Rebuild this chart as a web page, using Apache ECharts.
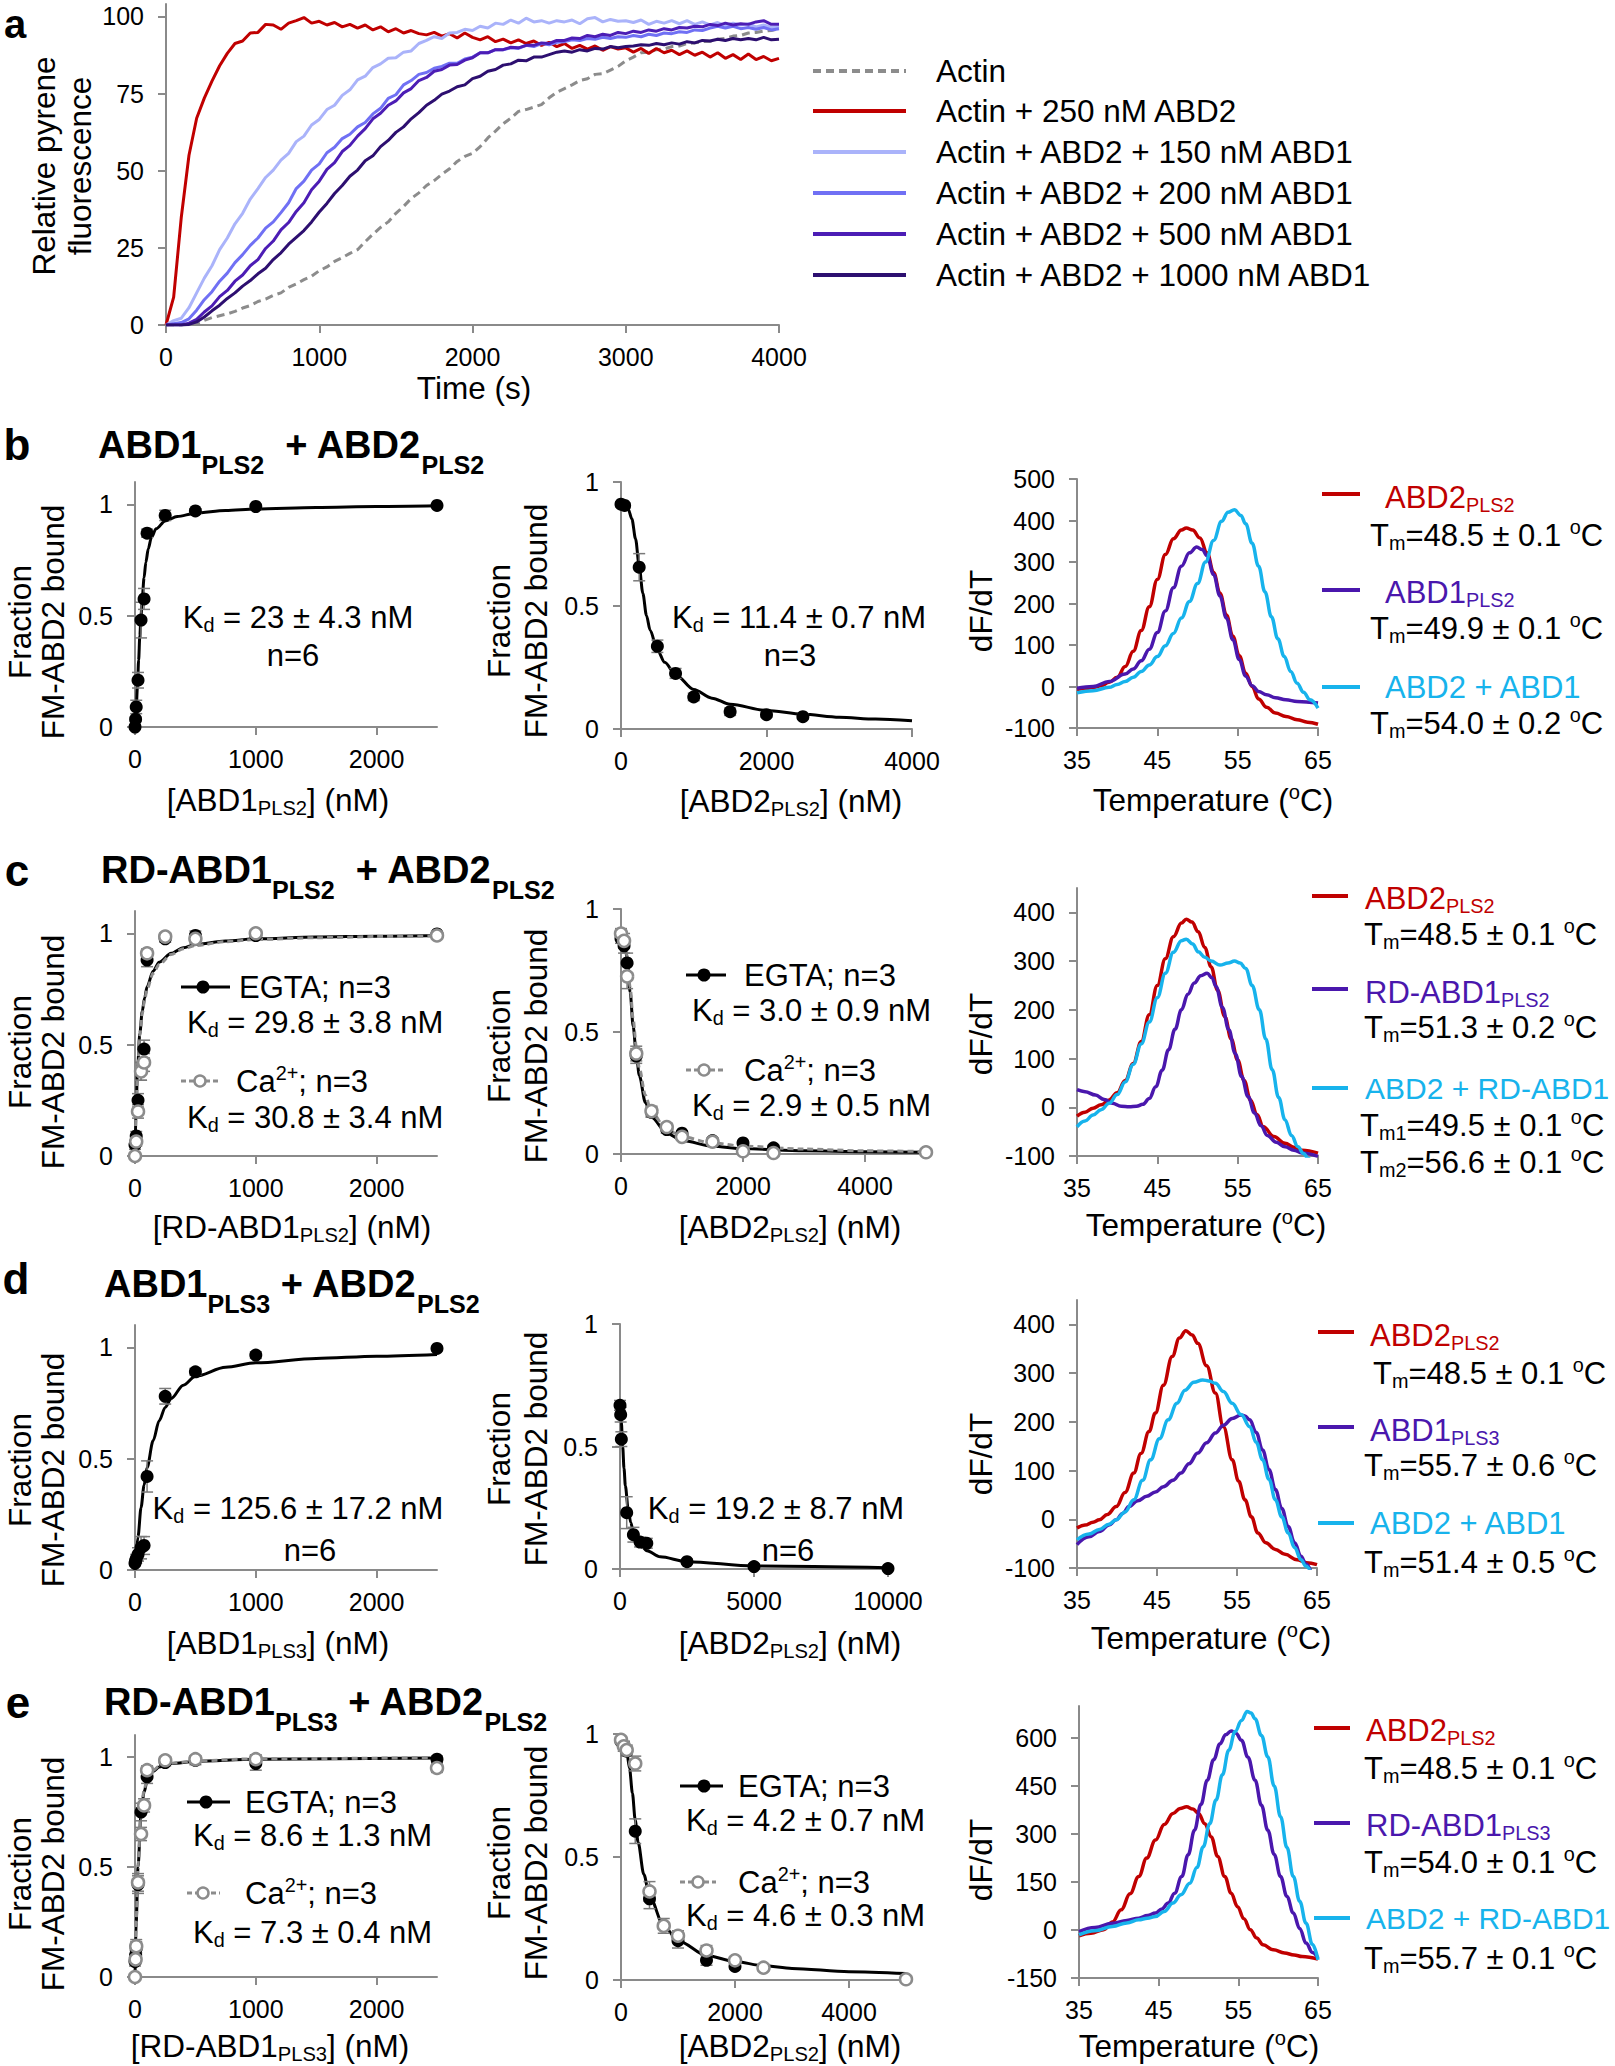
<!DOCTYPE html>
<html><head><meta charset="utf-8">
<script src="https://cdn.jsdelivr.net/npm/echarts@6/dist/echarts.min.js"></script>
<style>html,body{margin:0;padding:0;background:#fff}#c{width:1615px;height:2066px}</style>
</head><body><div id="c"></div><script>
// ---------------- DATA ----------------
// Panel a: pyrene-actin polymerisation (time in s, relative fluorescence)
const TIME_S = [0,50,100,150,200,250,300,350,400,450,500,550,600,650,700,750,800,850,900,950,1000,1050,1100,1150,1200,1250,1300,1350,1400,1450,1500,1550,1600,1650,1700,1750,1800,1850,1900,1950,2000,2050,2100,2150,2200,2250,2300,2350,2400,2450,2500,2550,2600,2650,2700,2750,2800,2850,2900,2950,3000,3050,3100,3150,3200,3250,3300,3350,3400,3450,3500,3550,3600,3650,3700,3750,3800,3850,3900,3950,4000];
const A_ACTIN = [0,0,0,0.2,0.5,1.5,2.4,3.0,3.6,4.4,5.5,6.3,7.6,8.4,9.6,10.4,12.2,13.3,14.7,15.8,17.6,18.8,20.6,21.8,23.2,24.4,27.0,29.4,31.6,33.4,36.2,38.4,41.0,42.8,45.2,46.8,48.8,50.6,53.0,54.6,55.6,57.8,60.6,62.8,65.2,67.0,69.2,69.8,70.6,71.4,73.6,75.4,76.6,77.8,79.2,79.8,81.2,81.4,82.6,83.8,85.6,86.8,88.2,88.4,89.2,89.4,90.2,90.4,91.2,91.4,91.8,91.9,92.6,92.9,93.6,93.8,94.6,94.8,95.2,95.4,96.0];
const A_ABD2 = [0,9,35,55,67,73.5,79,84,88,91.2,92,94.6,94.8,97.4,97.2,95.8,97.8,98.6,99.6,97.8,98.4,97.2,98,96.6,97.4,96.2,97.2,95.6,96.6,95,96,94.6,95.4,94.4,94,94.8,93.6,94.4,93,94.6,93.2,92.4,93.4,91.8,92.6,91.4,92.4,91.2,92,90.6,91.6,90.2,91.2,89.6,90.6,89.4,90.4,89,90.2,89.4,89.8,88.4,89.6,88,89.6,88.2,89,87.6,88.8,87.4,88.4,86.8,88.2,86.4,87.6,86,87.8,86,87,85.6,86.4];
const A_ABD1_150 = [0,1.4,2.2,5.6,10.4,15.2,19.2,24.4,28.2,32.8,36.2,40.8,44.2,47.8,50.2,53.4,55.6,59.4,61.2,64.8,66.6,69.8,71.2,74.4,76.2,79.4,80.6,83.4,84.6,86.4,86.6,88.4,88.8,91.2,92.2,93.4,92.8,94.6,94.8,95.8,95.4,96.8,96.2,97.8,97.4,98.8,97.8,99.4,98.2,98.6,97.8,98.6,98.2,98.8,97.6,99.2,99.6,98.2,99,98.4,98.6,98,98.8,97.4,98.4,97.8,98.6,97.6,98.6,97.4,98.2,97.2,98,97,97.8,97.2,97.6,96.6,97.2,96.4,96.6];
const A_ABD1_200 = [0,0.4,0.8,2,4.8,8.2,10.8,14.2,16.8,20.2,22.8,25.8,28.2,31.4,33.4,36.4,39.6,44.2,46.6,50.2,52.2,55.8,57.6,60.4,61.8,64.2,65.6,68.4,70.2,73.4,74.6,77.8,79.2,81.2,81.8,83.2,83.8,84.8,84.8,86.2,86.8,88.2,88.2,89.2,89.2,89.8,89.6,90.6,90.2,91.2,90.8,91.6,91.8,92.4,92.2,92.8,92.6,93.2,92.8,93.4,93.2,93.8,93.4,94.2,93.8,94.6,94.4,95,94.8,95.6,95.4,96.2,96.8,96.2,96.8,96,96.4,95.8,96.4,95.6,96];
const A_ABD1_500 = [0,0,0,0.6,1.8,4.2,6.2,9.2,11.2,14.2,16.2,19.2,21.2,24.8,27.2,30.8,33.2,36.8,39.6,43.8,46.6,50.4,52.6,56.2,58.2,61.2,63.6,66.8,68.6,71.2,72.6,75.2,76.6,79.2,80.2,82.2,82.8,84.2,84.4,85.8,86.6,88.2,88.2,89.2,89.2,90,89.8,90.6,90.6,91.4,91.2,92.2,92.2,93,92.8,93.8,93.4,94.2,93.8,94.8,94.4,95.2,94.8,95.6,95.2,96,95.6,96.4,96.2,96.8,96.6,97.4,97,97.8,97.2,97.6,97.4,98.2,98.6,97.4,97.4];
const A_ABD1_1000 = [0,0,0,0.2,1,2.6,4.6,6.4,8.6,10.4,12.6,14.4,16.6,18.4,21.2,23.4,26.2,28.4,30.6,33.4,36.6,39.4,42.6,45.2,48.2,50.2,53.2,54.8,57.8,59.8,62.4,64.2,66.8,68.8,71.2,72.8,74.8,75.8,77.2,77.8,79.8,80.6,82.2,82.8,84.2,84.6,85.8,85.6,86.8,86.8,87.6,88.4,88.8,88.4,89.2,88.8,89.6,89.4,90.2,89.8,90.2,90.4,90.8,90.6,91.2,90.8,91.4,91,91.8,91.4,92.2,92,92.6,92.2,92.8,92.4,92.8,92.4,93.2,92.4,92.6];
const A_NAMES = ['Actin','Actin + 250 nM ABD2','Actin + ABD2 + 150 nM ABD1','Actin + ABD2 + 200 nM ABD1','Actin + ABD2 + 500 nM ABD1','Actin + ABD2 + 1000 nM ABD1'];

// Panel b: ABD1PLS2 + ABD2PLS2
const B1_X = [0,5,10,25,50,75,100,250,500,1000,2500];
const B1_Y = [0.0,0.035,0.09,0.21,0.48,0.575,0.87,0.95,0.97,0.99,0.995];
const B1_E = [0.01,0.01,0.03,0.035,0.08,0.047,0.018,0.023,0.01,0.01,0.005];
const B1_FIT_X = [0,10,20,30,40,50,60,75,90,110,135,175,250,350,500,750,1000,1500,2000,2500];
const B1_FIT_Y = [0,0.08,0.18,0.3,0.41,0.5,0.58,0.67,0.74,0.8,0.85,0.89,0.925,0.945,0.96,0.972,0.979,0.986,0.99,0.993];
const B2_X = [0,50,250,500,750,1000,1500,2000,2500];
const B2_Y = [0.91,0.905,0.655,0.335,0.225,0.13,0.07,0.058,0.05];
const B2_E = [0.01,0.01,0.055,0.025,0.02,0.015,0.015,0.01,0.01];
const B2_FIT_X = [0,50,100,150,200,250,300,350,400,500,600,750,1000,1250,1500,2000,2500,3000,3500,4000];
const B2_FIT_Y = [0.91,0.905,0.89,0.85,0.77,0.66,0.55,0.46,0.4,0.32,0.27,0.22,0.16,0.125,0.1,0.075,0.06,0.048,0.04,0.033];
const B3_ABD2 = [[35,-7],[36,-5],[37,-2],[38,2],[39,10],[40,22],[41,48],[42,85],[43,135],[44,192],[45,258],[46,318],[47,356],[48,377],[48.6,382],[49.4,377],[50.3,358],[51.2,322],[52,275],[52.8,225],[53.6,172],[54.4,121],[55.2,74],[56,32],[56.8,0],[57.6,-30],[58.6,-50],[59.7,-64],[61,-72],[62.4,-80],[63.7,-86],[65,-91]];
const B3_ABD1 = [[35,-4],[37,0],[39,12],[41,30],[42,42],[43,62],[44,90],[45,130],[46,182],[47,238],[48,290],[49,322],[49.9,336],[50.6,330],[51.2,315],[52,270],[52.8,218],[53.6,165],[54.4,113],[55.2,65],[56,25],[56.8,2],[57.6,-12],[58.6,-20],[59.7,-27],[61,-32],[62.4,-36],[65,-40]];
const B3_MIX = [[35,-15],[37,-10],[39,-2],[40,5],[41,12],[42,22],[43,36],[44,52],[45,72],[46,98],[47,128],[48,165],[49,205],[50,248],[51,300],[52,352],[53,398],[53.8,420],[54.6,426],[55.4,412],[56,392],[56.8,345],[57.6,290],[58.4,228],[59.2,168],[60,115],[60.8,72],[61.6,36],[62.4,8],[63.2,-14],[64,-32],[65,-52]];

// Panel c: RD-ABD1PLS2 + ABD2PLS2
const C1_X = [0,10,25,50,75,100,250,500,1000,2500];
const C1_EGTA = [0.05,0.09,0.25,0.38,0.48,0.88,0.975,0.99,0.99,0.997];
const C1_EGTA_E = [0.02,0.02,0.03,0.04,0.04,0.03,0.015,0.02,0.01,0.01];
const C1_CA = [0,0.065,0.2,0.38,0.42,0.91,0.985,0.975,1.0,0.99];
const C1_CA_E = [0.01,0.02,0.03,0.04,0.04,0.02,0.015,0.02,0.01,0.01];
const C1_FIT_X = [0,10,20,40,60,80,100,150,200,300,400,500,750,1000,1500,2000,2500];
const C1_FIT_EGTA = [0,0.22,0.38,0.55,0.65,0.71,0.76,0.83,0.87,0.91,0.935,0.95,0.965,0.975,0.983,0.987,0.99];
const C1_FIT_CA = [0,0.21,0.37,0.54,0.64,0.7,0.75,0.82,0.86,0.905,0.93,0.945,0.962,0.972,0.98,0.985,0.988];
const C2_X = [0,50,100,250,500,750,1000,1500,2000,2500,5000];
const C2_EGTA = [0.88,0.85,0.78,0.4,0.17,0.1,0.085,0.055,0.045,0.025,0.007];
const C2_EGTA_E = [0.02,0.03,0.04,0.03,0.02,0.015,0.01,0.01,0.01,0.01,0.005];
const C2_CA = [0.9,0.87,0.725,0.41,0.175,0.11,0.07,0.05,0.011,0.004,0.007];
const C2_CA_E = [0.02,0.03,0.05,0.03,0.02,0.015,0.01,0.01,0.01,0.01,0.005];
const C2_FIT_X = [0,50,100,150,200,250,300,400,500,750,1000,1500,2000,3000,4000,5000];
const C2_FIT_EGTA = [0.89,0.87,0.8,0.66,0.52,0.41,0.32,0.21,0.15,0.085,0.055,0.032,0.022,0.013,0.009,0.007];
const C2_FIT_CA = [0.9,0.88,0.81,0.68,0.55,0.44,0.35,0.24,0.17,0.1,0.07,0.045,0.032,0.02,0.013,0.01];
const C3_ABD2 = [[35,-18],[36,-10],[37,-2],[38,5],[39,15],[40,30],[41,55],[42,90],[43,135],[44,190],[45,250],[46,305],[47,350],[48,378],[48.6,386],[49.3,380],[50.1,360],[50.9,328],[51.7,288],[52.5,240],[53.4,186],[54.2,140],[55,97],[55.8,55],[56.6,15],[57.4,-15],[58.2,-40],[59.5,-60],[60.9,-74],[62,-82],[63,-88],[65,-94]];
const C3_RDABD1 = [[35,36],[36,32],[37.3,25],[38.4,16],[39.4,8],[40.5,2],[41.5,1],[42.4,2],[43.2,6],[44,18],[44.8,42],[45.6,76],[46.4,118],[47.2,160],[48,200],[48.8,232],[49.6,255],[50.4,270],[51.2,275],[51.8,266],[52.3,248],[53.1,205],[53.9,159],[54.7,110],[55.5,63],[56.3,22],[57.1,-12],[57.9,-38],[58.7,-58],[59.8,-72],[60.9,-81],[62,-88],[63,-94],[65,-101]];
const C3_MIX = [[35,-40],[36,-28],[37,-16],[38,-5],[39,8],[40,26],[41,52],[42,88],[43,130],[44,175],[45,225],[46,275],[47,318],[48,342],[48.6,345],[49.4,335],[50.1,319],[50.9,308],[51.7,300],[52.8,292],[53.8,296],[54.6,300],[55.3,296],[56,285],[56.8,250],[57.7,200],[58.5,140],[59.3,77],[60.1,20],[60.9,-26],[61.7,-58],[62.5,-81],[63.2,-95],[63.8,-105],[64.2,-112]];

// Panel d: ABD1PLS3 + ABD2PLS2
const D1_X = [0,5,10,25,50,75,100,250,500,1000,2500];
const D1_Y = [0.03,0.04,0.05,0.07,0.1,0.11,0.42,0.78,0.89,0.965,0.995];
const D1_E = [0.01,0.01,0.02,0.03,0.05,0.04,0.07,0.035,0.015,0.015,0.01];
const D1_FIT_X = [0,25,50,75,100,150,200,250,300,400,500,750,1000,1500,2000,2500];
const D1_FIT_Y = [0,0.15,0.28,0.38,0.46,0.58,0.67,0.73,0.77,0.83,0.87,0.91,0.93,0.95,0.96,0.968];
const D2_X = [0,25,50,250,500,750,1000,2500,5000,10000];
const D2_Y = [0.668,0.63,0.53,0.23,0.14,0.11,0.105,0.03,0.01,0.002];
const D2_E = [0.02,0.03,0.03,0.065,0.03,0.02,0.02,0.01,0.01,0.005];
const D2_FIT_X = [0,50,100,150,200,300,400,500,750,1000,1500,2500,5000,10000];
const D2_FIT_Y = [0.66,0.6,0.5,0.41,0.34,0.25,0.19,0.15,0.1,0.075,0.05,0.03,0.012,0.005];
const D3_ABD2 = [[35,-18],[36,-12],[37,-6],[37.8,-1],[38.8,10],[39.9,26],[41,55],[42.1,95],[43,135],[44,180],[44.8,218],[45.8,275],[46.9,334],[47.8,372],[48.6,387],[49.4,378],[50.1,361],[51.2,315],[52.3,259],[53.3,190],[54.4,122],[55.2,78],[56,40],[56.8,5],[57.6,-28],[58.6,-48],[59.8,-62],[61,-72],[62.5,-83],[63.7,-89],[65,-93]];
const D3_ABD1 = [[35,-52],[36.5,-36],[37.8,-25],[39,-12],[39.9,-1],[40.7,12],[41.5,26],[42.6,38],[43.7,47],[44.8,56],[45.8,67],[47,80],[48,95],[49,114],[50.1,136],[51.2,157],[52.3,177],[53.3,193],[54.4,207],[55.5,214],[56,212],[56.6,204],[57.4,178],[58.2,142],[59,102],[59.8,61],[60.6,22],[61.4,-15],[62.2,-48],[63,-76],[63.6,-92],[64.2,-105]];
const D3_MIX = [[35,-42],[36.5,-30],[37.8,-21],[39,-10],[39.9,-1],[41,15],[42.1,40],[43.2,80],[44.2,122],[45.3,165],[46.4,204],[47.5,238],[48.5,265],[49.6,281],[50.7,286],[51.5,284],[52.3,279],[53.3,262],[54.4,238],[55.5,215],[56.6,190],[57.4,158],[58.2,122],[59,82],[59.8,40],[60.6,5],[61.4,-28],[62.2,-58],[63,-83],[63.6,-96],[64.2,-107]];

// Panel e: RD-ABD1PLS3 + ABD2PLS2
const E1_X_EGTA = [0,5,10,25,50,100,250,500,1000,2500];
const E1_EGTA = [0.07,0.1,0.13,0.42,0.75,0.91,0.975,0.985,0.97,0.99];
const E1_EGTA_E = [0.02,0.02,0.03,0.04,0.04,0.03,0.015,0.02,0.03,0.015];
const E1_X_CA = [0,5,10,25,50,75,100,250,500,1000,2500];
const E1_CA = [0,0.08,0.14,0.43,0.65,0.78,0.94,0.985,0.99,0.99,0.95];
const E1_CA_E = [0.01,0.02,0.03,0.04,0.03,0.03,0.02,0.015,0.01,0.02,0.02];
const E1_FIT_X = [0,10,25,50,75,100,150,200,300,500,1000,2500];
const E1_FIT_EGTA = [0,0.25,0.5,0.74,0.84,0.89,0.935,0.955,0.97,0.98,0.99,0.995];
const E1_FIT_CA = [0,0.26,0.51,0.75,0.85,0.9,0.94,0.958,0.972,0.982,0.992,0.997];
const E2_X_EGTA = [0,50,100,250,500,1000,1500,2000,2500];
const E2_EGTA = [0.97,0.95,0.93,0.605,0.33,0.16,0.08,0.055,0.05];
const E2_EGTA_E = [0.01,0.02,0.02,0.05,0.04,0.03,0.02,0.01,0.01];
const E2_X_CA = [0,50,100,250,500,750,1000,1500,2000,2500,5000];
const E2_CA = [0.976,0.95,0.935,0.88,0.36,0.22,0.18,0.12,0.08,0.05,0.003];
const E2_CA_E = [0.01,0.02,0.02,0.03,0.04,0.03,0.02,0.02,0.01,0.01,0.005];
const E2_FIT_X = [0,50,100,150,200,250,300,400,500,750,1000,1500,2000,2500,3000,4000,5000];
const E2_FIT_Y = [0.97,0.96,0.93,0.86,0.76,0.65,0.56,0.43,0.34,0.22,0.16,0.1,0.075,0.058,0.047,0.034,0.026];
const E3_ABD2 = [[35,-18],[36.5,-10],[38.1,1],[39.2,25],[40.3,63],[41.4,113],[42.5,167],[43.5,225],[44.6,281],[45.7,330],[46.8,364],[47.7,380],[48.5,385],[49.3,378],[50,364],[50.8,332],[51.6,291],[52.4,230],[53.3,167],[54.1,115],[54.9,73],[55.7,35],[56.5,1],[57.3,-25],[58.1,-46],[59.4,-62],[60.8,-72],[62,-78],[63,-83],[65,-91]];
const E3_RDABD1 = [[35,-5],[37,8],[39.2,21],[41,30],[42.5,37],[43.6,45],[44.6,53],[45.4,66],[46.2,84],[47,115],[47.9,167],[48.7,235],[49.5,312],[50.3,392],[51.1,468],[51.9,532],[52.7,582],[53.4,610],[54.1,622],[54.7,615],[55.4,593],[56.2,540],[57.1,468],[57.9,390],[58.7,312],[59.5,236],[60.3,167],[61.1,105],[61.9,53],[62.7,5],[63.5,-41],[64.3,-70],[65,-88]];
const E3_MIX = [[35,-15],[37,-2],[39.2,11],[41,22],[42.5,32],[43.6,37],[44.6,42],[45.7,58],[46.8,84],[47.8,110],[48.9,146],[49.8,195],[50.6,260],[51.4,332],[52.2,406],[53,485],[53.8,562],[54.6,620],[55.4,655],[56.1,683],[56.6,678],[57.1,660],[57.9,608],[58.7,541],[59.5,450],[60.3,354],[61.1,258],[61.9,167],[62.7,90],[63.5,21],[64.3,-45],[65,-93]];

// tick labels
const A_XT = [0,1000,2000,3000,4000], A_YT = [0,25,50,75,100];
const FR_T = [0,0.5,1];
const X2500_T = [0,1000,2000], X4000_T = [0,2000,4000], X5000_T = [0,2000,4000], X10000_T = [0,5000,10000];
const TEMP_T = [35,45,55,65];
const DF500_T = [-100,0,100,200,300,400,500], DF400_T = [-100,0,100,200,300,400], DF600_T = [-150,0,150,300,450,600];

// ---------------- STYLE / BUILD ----------------
const FONT = "'Liberation Sans', Arial, Helvetica, sans-serif";
const AXC = '#8a8a8a', GR = '#8c8c8c', ERR = '#7a7a7a';
const RED = '#c00000', PUR = '#4a17ad', CYA = '#17b3ec';
const A_COLORS = ['#8c8c8c', RED, '#aab3fa', '#7070f4', '#4c1db5', '#2d0f70'];
const FS_ANN = 31, FS_NAME = 31.5, FS_TICK = 25;

const grids = [], xAxes = [], yAxes = [], series = [], graphics = [];
function axis(i, r, ticks, isX) {
  return {gridIndex: i, type: 'value', min: r[0], max: r[1], position: isX ? 'bottom' : 'left',
    axisLine: {show: true, onZero: false, lineStyle: {color: AXC, width: 2}},
    axisTick: {show: true, inside: false, length: 8, customValues: ticks, lineStyle: {color: AXC, width: 2}},
    axisLabel: {show: true, customValues: ticks, margin: isX ? 19 : 22, color: '#000', fontSize: FS_TICK, fontFamily: FONT, formatter: v => String(v)},
    splitLine: {show: false}, minorTick: {show: false}};
}
function chart(g, xr, xt, yr, yt) {
  grids.push({left: g[0], top: g[1], width: g[2], height: g[3], containLabel: false, outerBoundsMode: 'none'});
  const i = grids.length - 1;
  xAxes.push(axis(i, xr, xt, true));
  yAxes.push(axis(i, yr, yt, false));
  return i;
}
const zip = (xs, ys) => xs.map((x, k) => [x, ys[k]]);
function line(i, data, color, w, dash, smooth, z) {
  series.push({type: 'line', xAxisIndex: i, yAxisIndex: i, data, showSymbol: false, symbol: 'none', silent: true,
    smooth: smooth || false, smoothMonotone: 'x', clip: true, z: z || 2,
    lineStyle: {color, width: w, type: dash ? dash : 'solid', cap: 'butt'}});
}
function pts(i, xs, ys, open) {
  series.push({type: 'scatter', xAxisIndex: i, yAxisIndex: i, data: zip(xs, ys), symbol: 'circle', silent: true,
    symbolSize: open ? 12 : 13, z: 5,
    itemStyle: open ? {color: '#fff', borderColor: GR, borderWidth: 2.5, opacity: 1} : {color: '#000', opacity: 1}});
}
function errs(i, xs, ys, es) {
  series.push({type: 'custom', xAxisIndex: i, yAxisIndex: i, silent: true, z: 4,
    data: xs.map((x, k) => [x, ys[k] - es[k], ys[k] + es[k]]), encode: {x: 0, y: [1, 2]},
    renderItem: (p, api) => {
      const a = api.coord([api.value(0), api.value(1)]), b = api.coord([api.value(0), api.value(2)]);
      const w = 6, st = {stroke: ERR, lineWidth: 1.5};
      return {type: 'group', children: [
        {type: 'line', shape: {x1: a[0], y1: a[1], x2: b[0], y2: b[1]}, style: st},
        {type: 'line', shape: {x1: a[0] - w, y1: a[1], x2: a[0] + w, y2: a[1]}, style: st},
        {type: 'line', shape: {x1: b[0] - w, y1: b[1], x2: b[0] + w, y2: b[1]}, style: st}]};
    }});
}
function toRich(s) {
  let out = '', buf = '', i = 0;
  const flush = () => { if (buf) { out += '{m|' + buf + '}'; buf = ''; } };
  while (i < s.length) {
    if ((s[i] === '_' || s[i] === '^') && s[i + 1] === '{') {
      flush(); const j = s.indexOf('}', i);
      out += '{' + (s[i] === '_' ? 's' : 'p') + '|' + s.slice(i + 2, j) + '}'; i = j + 1;
    } else { buf += s[i]; i++; }
  }
  flush(); return out;
}
function T(x, y, s, o) {
  o = o || {};
  const F = o.size || FS_ANN, col = o.color || '#000', wt = o.weight || 'normal', r = o.r || 0.64;
  const P = o.P != null ? o.P : 0.08 * F;
  const base = {fontFamily: FONT, fontWeight: wt, fill: col, color: col};
  graphics.push({type: 'text', x, y, rotation: o.rot || 0, z: 100, silent: true,
    style: {text: toRich(s), align: o.align || 'left', verticalAlign: 'middle', fontFamily: FONT, fontSize: F, fontWeight: wt, fill: col,
      rich: {
        m: Object.assign({}, base, {fontSize: F, lineHeight: F + 2 * P, verticalAlign: 'middle'}),
        s: Object.assign({}, base, {fontSize: F * r, lineHeight: F * r, verticalAlign: 'bottom'}),
        p: Object.assign({}, base, {fontSize: F * r, lineHeight: F * r, verticalAlign: 'top'})
      }}});
}
function VT(x, y, s) {
  graphics.push({type: 'text', x, y, rotation: Math.PI / 2, z: 100, silent: true,
    style: {text: s, align: 'center', verticalAlign: 'middle', fontFamily: FONT, fontSize: FS_NAME, lineHeight: 24, fill: '#000'}});
}
function L(x1, y1, x2, y2, color, w, dash) {
  graphics.push({type: 'line', z: 100, silent: true, shape: {x1, y1, x2, y2}, style: {stroke: color, lineWidth: w, lineDash: dash || null}});
}
function Ci(cx, cy, r, fill, stroke, w) {
  graphics.push({type: 'circle', z: 101, silent: true, shape: {cx, cy, r}, style: {fill, stroke: stroke || null, lineWidth: w || 0}});
}
function NAME(x, y, s) { T(x, y, s, {align: 'center', size: FS_NAME}); }
function FRAC(x1, x2, y) { VT(x1, y, 'Fraction'); VT(x2, y, 'FM-ABD2 bound'); }

// ---- Panel a ----
const ia = chart([166, 4, 613, 321], [0, 4000], A_XT, [0, 104], A_YT);
[A_ACTIN, A_ABD2, A_ABD1_150, A_ABD1_200, A_ABD1_500, A_ABD1_1000].forEach((v, k) =>
  line(ia, zip(TIME_S, v), A_COLORS[k], 3, k === 0 ? [8, 5] : null, false, 2 + k));
T(15, 24, 'a', {size: 40, weight: 'bold', align: 'center', P: 0});
VT(44, 166, 'Relative pyrene'); VT(80, 166, 'fluorescence');
NAME(474, 388, 'Time (s)');
[71, 111, 152, 193, 234, 275].forEach((y, k) => {
  L(813, y, 906, y, A_COLORS[k], 4, k === 0 ? [8, 5] : null);
  T(936, y, A_NAMES[k], {size: 31.5});
});

// ---- Panel b ----
const ib1 = chart([135, 482, 302, 245], [0, 2500], X2500_T, [0, 1.1], FR_T);
line(ib1, zip(B1_FIT_X, B1_FIT_Y), '#000', 3, null, 0.3, 3);
errs(ib1, B1_X, B1_Y, B1_E); pts(ib1, B1_X, B1_Y, false);
const ib2 = chart([621, 482, 291, 247], [0, 4000], X4000_T, [0, 1], FR_T);
line(ib2, zip(B2_FIT_X, B2_FIT_Y), '#000', 3, null, 0.3, 3);
errs(ib2, B2_X, B2_Y, B2_E); pts(ib2, B2_X, B2_Y, false);
const ib3 = chart([1077, 479, 241, 249], [35, 65], TEMP_T, [-100, 500], DF500_T);
line(ib3, B3_ABD2, RED, 3.5, null, 0.4, 3); line(ib3, B3_ABD1, PUR, 3.5, null, 0.4, 4); line(ib3, B3_MIX, CYA, 3.5, null, 0.4, 5);
T(17, 444, 'b', {size: 44, weight: 'bold', align: 'center', P: 0});
T(98, 445, 'ABD1_{PLS2}  + ABD2_{PLS2}', {size: 38, weight: 'bold', P: 13, r: 0.66});
FRAC(20, 53, 622); FRAC(498.5, 535.5, 621);
NAME(278, 800, '[ABD1_{PLS2}] (nM)');
NAME(791, 801, '[ABD2_{PLS2}] (nM)');
NAME(1213, 800, 'Temperature (^{o}C)');
VT(981, 611, 'dF/dT');
T(298, 617, 'K_{d} = 23 ± 4.3 nM', {align: 'center'}); T(293, 655, 'n=6', {align: 'center'});
T(799, 617, 'K_{d} = 11.4 ± 0.7 nM', {align: 'center'}); T(790, 655, 'n=3', {align: 'center'});
L(1322, 494, 1360, 494, RED, 4); T(1385, 497, 'ABD2_{PLS2}', {color: RED}); T(1370, 535, 'T_{m}=48.5 ± 0.1 ^{o}C');
L(1322, 590, 1360, 590, PUR, 4); T(1385, 592, 'ABD1_{PLS2}', {color: PUR}); T(1370, 628, 'T_{m}=49.9 ± 0.1 ^{o}C');
L(1322, 687, 1360, 687, CYA, 4); T(1385, 687, 'ABD2 + ABD1', {color: CYA}); T(1370, 723, 'T_{m}=54.0 ± 0.2 ^{o}C');

// ---- Panel c ----
const ic1 = chart([135, 911, 302, 245], [0, 2500], X2500_T, [0, 1.1], FR_T);
line(ic1, zip(C1_FIT_X, C1_FIT_EGTA), '#000', 3, null, 0.3, 2);
line(ic1, zip(C1_FIT_X, C1_FIT_CA), GR, 3, [6, 4], 0.3, 3);
errs(ic1, C1_X, C1_EGTA, C1_EGTA_E); errs(ic1, C1_X, C1_CA, C1_CA_E);
pts(ic1, C1_X, C1_EGTA, false); pts(ic1, C1_X, C1_CA, true);
const ic2 = chart([621, 909, 305, 245], [0, 5000], X5000_T, [0, 1], FR_T);
line(ic2, zip(C2_FIT_X, C2_FIT_EGTA), '#000', 3, null, 0.3, 2);
line(ic2, zip(C2_FIT_X, C2_FIT_CA), GR, 3, [6, 4], 0.3, 3);
errs(ic2, C2_X, C2_EGTA, C2_EGTA_E); errs(ic2, C2_X, C2_CA, C2_CA_E);
pts(ic2, C2_X, C2_EGTA, false); pts(ic2, C2_X, C2_CA, true);
const ic3 = chart([1077, 888, 241, 268], [35, 65], TEMP_T, [-100, 450], DF400_T);
line(ic3, C3_ABD2, RED, 3.5, null, 0.4, 3); line(ic3, C3_RDABD1, PUR, 3.5, null, 0.4, 4); line(ic3, C3_MIX, CYA, 3.5, null, 0.4, 5);
T(17, 870, 'c', {size: 44, weight: 'bold', align: 'center', P: 0});
T(101, 870, 'RD-ABD1_{PLS2}  + ABD2_{PLS2}', {size: 38, weight: 'bold', P: 13, r: 0.66});
FRAC(20, 53, 1052); FRAC(498.5, 535.5, 1046);
NAME(292, 1227, '[RD-ABD1_{PLS2}] (nM)');
NAME(790, 1227, '[ABD2_{PLS2}] (nM)');
NAME(1206, 1225, 'Temperature (^{o}C)');
VT(981, 1034, 'dF/dT');
L(181, 987, 230, 987, '#000', 3); Ci(203, 987, 6.5, '#000');
T(239, 987, 'EGTA; n=3'); T(187, 1022, 'K_{d} = 29.8 ± 3.8 nM');
L(181, 1081, 219, 1081, GR, 3, [5, 3]); Ci(200, 1081, 5.5, '#fff', GR, 2.5);
T(236, 1081, 'Ca^{2+}; n=3'); T(187, 1117, 'K_{d} = 30.8 ± 3.4 nM');
L(686, 975, 726, 975, '#000', 3); Ci(704, 975, 6.5, '#000');
T(744, 975, 'EGTA; n=3'); T(692, 1010, 'K_{d} = 3.0 ± 0.9 nM');
L(686, 1070, 726, 1070, GR, 3, [5, 3]); Ci(704, 1070, 5.5, '#fff', GR, 2.5);
T(744, 1070, 'Ca^{2+}; n=3'); T(692, 1105, 'K_{d} = 2.9 ± 0.5 nM');
L(1312, 896, 1348, 896, RED, 4); T(1365, 898, 'ABD2_{PLS2}', {color: RED}); T(1364, 934, 'T_{m}=48.5 ± 0.1 ^{o}C');
L(1312, 989, 1348, 989, PUR, 4); T(1365, 992, 'RD-ABD1_{PLS2}', {color: PUR}); T(1364, 1027, 'T_{m}=51.3 ± 0.2 ^{o}C');
L(1312, 1088, 1348, 1088, CYA, 4); T(1365, 1088, 'ABD2 + RD-ABD1', {color: CYA, size: 30});
T(1360, 1125, 'T_{m1}=49.5 ± 0.1 ^{o}C'); T(1360, 1162, 'T_{m2}=56.6 ± 0.1 ^{o}C');

// ---- Panel d ----
const id1 = chart([135, 1325, 302, 245], [0, 2500], X2500_T, [0, 1.1], FR_T);
line(id1, zip(D1_FIT_X, D1_FIT_Y), '#000', 3, null, 0.3, 3);
errs(id1, D1_X, D1_Y, D1_E); pts(id1, D1_X, D1_Y, false);
const id2 = chart([620, 1324, 268, 245], [0, 10000], X10000_T, [0, 1], FR_T);
line(id2, zip(D2_FIT_X, D2_FIT_Y), '#000', 3, null, 0.3, 3);
errs(id2, D2_X, D2_Y, D2_E); pts(id2, D2_X, D2_Y, false);
const id3 = chart([1077, 1300, 240, 268], [35, 65], TEMP_T, [-100, 450], DF400_T);
line(id3, D3_ABD2, RED, 3.5, null, 0.4, 3); line(id3, D3_ABD1, PUR, 3.5, null, 0.4, 4); line(id3, D3_MIX, CYA, 3.5, null, 0.4, 5);
T(16, 1278, 'd', {size: 44, weight: 'bold', align: 'center', P: 0});
T(104, 1284, 'ABD1_{PLS3} + ABD2_{PLS2}', {size: 38, weight: 'bold', P: 13, r: 0.66});
FRAC(20, 53, 1470); FRAC(498.5, 535.5, 1449);
NAME(278, 1643, '[ABD1_{PLS3}] (nM)');
NAME(790, 1643, '[ABD2_{PLS2}] (nM)');
NAME(1211, 1638, 'Temperature (^{o}C)');
VT(981, 1454, 'dF/dT');
T(298, 1508, 'K_{d} = 125.6 ± 17.2 nM', {align: 'center'}); T(310, 1550, 'n=6', {align: 'center'});
T(776, 1508, 'K_{d} = 19.2 ± 8.7 nM', {align: 'center'}); T(788, 1550, 'n=6', {align: 'center'});
L(1318, 1332, 1354, 1332, RED, 4); T(1370, 1335, 'ABD2_{PLS2}', {color: RED}); T(1373, 1373, 'T_{m}=48.5 ± 0.1 ^{o}C');
L(1318, 1427, 1354, 1427, PUR, 4); T(1370, 1430, 'ABD1_{PLS3}', {color: PUR}); T(1364, 1465, 'T_{m}=55.7 ± 0.6 ^{o}C');
L(1318, 1523, 1354, 1523, CYA, 4); T(1370, 1523, 'ABD2 + ABD1', {color: CYA}); T(1364, 1562, 'T_{m}=51.4 ± 0.5 ^{o}C');

// ---- Panel e ----
const ie1 = chart([135, 1735, 302, 242], [0, 2500], X2500_T, [0, 1.1], FR_T);
line(ie1, zip(E1_FIT_X, E1_FIT_EGTA), '#000', 3, null, 0.3, 2);
line(ie1, zip(E1_FIT_X, E1_FIT_CA), GR, 3, [6, 4], 0.3, 3);
errs(ie1, E1_X_EGTA, E1_EGTA, E1_EGTA_E); errs(ie1, E1_X_CA, E1_CA, E1_CA_E);
pts(ie1, E1_X_EGTA, E1_EGTA, false); pts(ie1, E1_X_CA, E1_CA, true);
const ie2 = chart([621, 1734, 285, 246], [0, 5000], X5000_T, [0, 1], FR_T);
line(ie2, zip(E2_FIT_X, E2_FIT_Y), '#000', 3, null, 0.3, 3);
errs(ie2, E2_X_EGTA, E2_EGTA, E2_EGTA_E); errs(ie2, E2_X_CA, E2_CA, E2_CA_E);
pts(ie2, E2_X_EGTA, E2_EGTA, false); pts(ie2, E2_X_CA, E2_CA, true);
const ie3 = chart([1079, 1706, 239, 272], [35, 65], TEMP_T, [-150, 700], DF600_T);
line(ie3, E3_ABD2, RED, 3.5, null, 0.4, 3); line(ie3, E3_RDABD1, PUR, 3.5, null, 0.4, 4); line(ie3, E3_MIX, CYA, 3.5, null, 0.4, 5);
T(18, 1702, 'e', {size: 44, weight: 'bold', align: 'center', P: 0});
T(104, 1702, 'RD-ABD1_{PLS3} + ABD2_{PLS2}', {size: 38, weight: 'bold', P: 13, r: 0.66});
FRAC(20, 53, 1874); FRAC(498.5, 535.5, 1863);
NAME(270, 2046, '[RD-ABD1_{PLS3}] (nM)');
NAME(790, 2046, '[ABD2_{PLS2}] (nM)');
NAME(1199, 2046, 'Temperature (^{o}C)');
VT(981, 1860, 'dF/dT');
L(187, 1802, 230, 1802, '#000', 3); Ci(206, 1802, 6.5, '#000');
T(245, 1802, 'EGTA; n=3'); T(193, 1835, 'K_{d} = 8.6 ± 1.3 nM');
L(187, 1893, 220, 1893, GR, 3, [5, 3]); Ci(203, 1893, 5.5, '#fff', GR, 2.5);
T(245, 1893, 'Ca^{2+}; n=3'); T(193, 1932, 'K_{d} = 7.3 ± 0.4 nM');
L(680, 1786, 723, 1786, '#000', 3); Ci(704, 1786, 6.5, '#000');
T(738, 1786, 'EGTA; n=3'); T(686, 1820, 'K_{d} = 4.2 ± 0.7 nM');
L(680, 1882, 716, 1882, GR, 3, [5, 3]); Ci(698, 1882, 5.5, '#fff', GR, 2.5);
T(738, 1882, 'Ca^{2+}; n=3'); T(686, 1915, 'K_{d} = 4.6 ± 0.3 nM');
L(1314, 1728, 1350, 1728, RED, 4); T(1366, 1730, 'ABD2_{PLS2}', {color: RED}); T(1364, 1768, 'T_{m}=48.5 ± 0.1 ^{o}C');
L(1314, 1823, 1350, 1823, PUR, 4); T(1366, 1825, 'RD-ABD1_{PLS3}', {color: PUR}); T(1364, 1862, 'T_{m}=54.0 ± 0.1 ^{o}C');
L(1314, 1918, 1350, 1918, CYA, 4); T(1366, 1918, 'ABD2 + RD-ABD1', {color: CYA, size: 30}); T(1364, 1958, 'T_{m}=55.7 ± 0.1 ^{o}C');

const chartObj = echarts.init(document.getElementById('c'), null, {renderer: 'svg', width: 1615, height: 2066});
chartObj.setOption({
  animation: false, backgroundColor: '#fff',
  textStyle: {fontFamily: FONT},
  grid: grids, xAxis: xAxes, yAxis: yAxes, series, graphic: {elements: graphics}
});
</script></body></html>
